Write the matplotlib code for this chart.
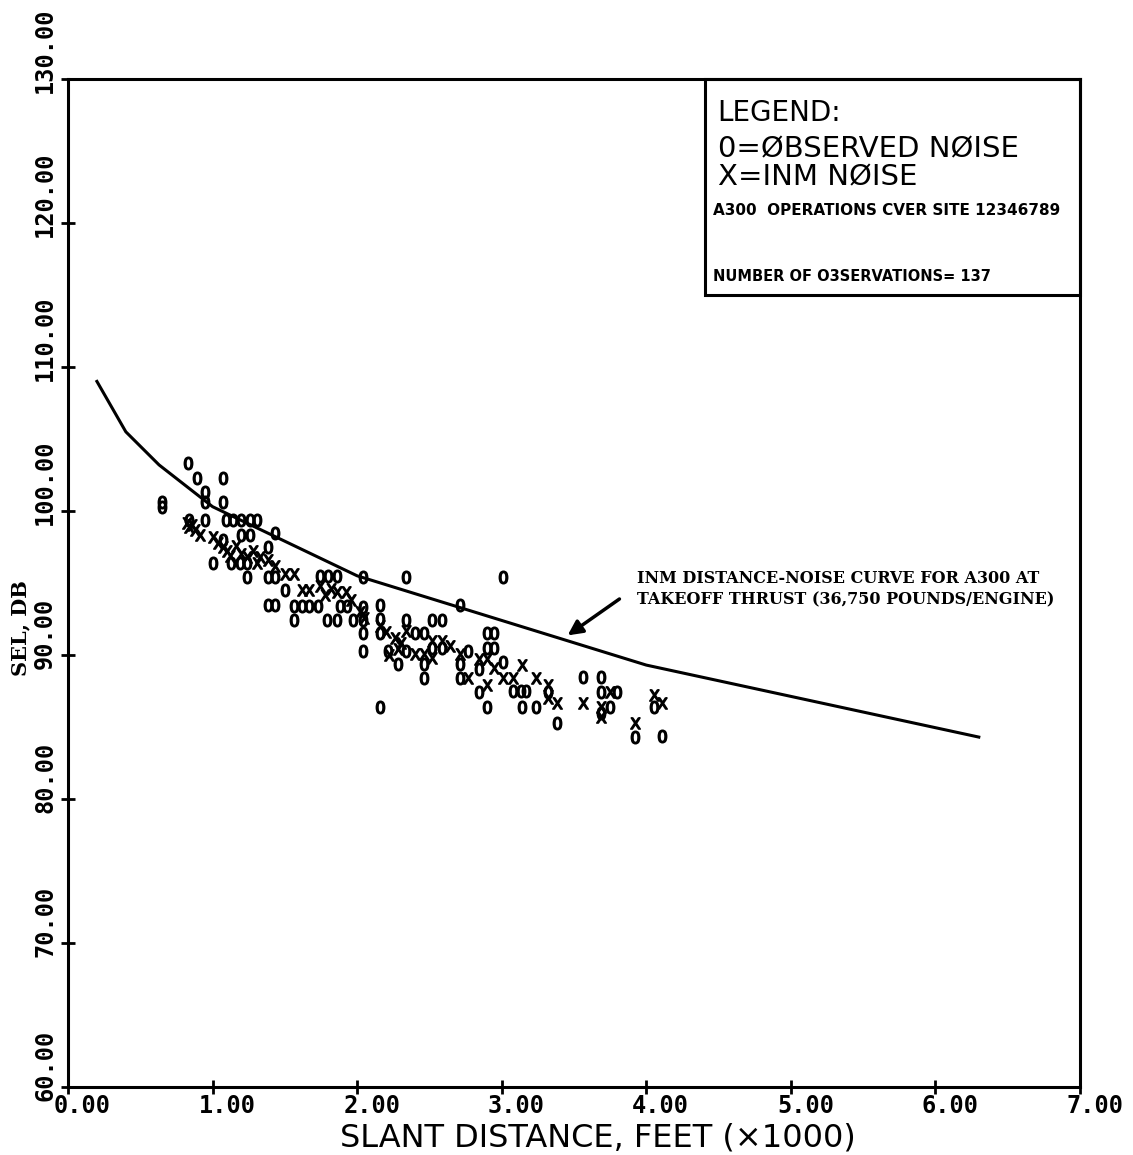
"""A300 SEL vs slant distance: observed (0) and INM (X) per-operation noise,
with the INM takeoff-thrust distance-noise curve."""
import matplotlib
matplotlib.use("Agg")
import matplotlib.pyplot as plt
from matplotlib.patches import Rectangle
from matplotlib.transforms import ScaledTranslation, blended_transform_factory

# INM distance-noise curve (slant distance x1000 ft, SEL dB)
CURVE_DIST = [0.2, 0.4, 0.63, 1.0, 2.0, 4.0, 6.3]
CURVE_SEL = [109.0, 105.5, 103.2, 100.3, 95.5, 89.3, 84.3]

OBS_DIST = [0.65, 0.65, 0.83, 0.89, 1.07, 0.95, 0.95, 1.07,
            0.84, 0.95, 1.09, 1.14, 1.20, 1.26, 1.31, 1.20, 1.26, 1.43, 1.07,
            1.00, 1.13, 1.19, 1.24, 1.38, 1.24, 1.38, 1.43, 1.50,
            1.38, 1.43, 1.56, 1.62, 1.67, 1.73, 1.56, 1.74, 1.80, 1.86,
            1.79, 1.86, 1.97, 1.88, 1.93, 2.04, 2.04, 2.04, 2.04, 2.04,
            2.34, 2.16, 2.16, 2.16, 2.16, 2.21, 2.28, 2.34, 2.34,
            2.71, 2.52, 2.59, 2.40, 2.46, 2.52, 2.59, 2.46, 2.46,
            2.77, 2.71, 2.71, 2.84, 2.84, 2.90, 2.95, 2.90, 2.95, 3.01, 2.90,
            3.08, 3.13, 3.17, 3.14, 3.24, 3.01, 3.32, 3.38,
            3.56, 3.69, 3.69, 3.80, 3.75, 3.92, 4.11, 4.05, 3.69]
OBS_SEL = [100.6, 100.3, 103.3, 102.3, 102.3, 101.3, 100.6, 100.6,
           99.4, 99.4, 99.4, 99.4, 99.4, 99.4, 99.4, 98.3, 98.3, 98.5, 98.0,
           96.4, 96.4, 96.4, 96.4, 97.5, 95.4, 95.4, 95.4, 94.5,
           93.5, 93.5, 93.4, 93.4, 93.4, 93.4, 92.4, 95.5, 95.5, 95.5,
           92.4, 92.4, 92.4, 93.4, 93.4, 95.4, 93.3, 92.4, 91.5, 90.3,
           95.4, 93.5, 92.5, 91.5, 86.4, 90.3, 89.4, 92.4, 90.3,
           93.5, 92.4, 92.4, 91.5, 91.5, 90.5, 90.5, 89.4, 88.4,
           90.3, 89.4, 88.4, 89.0, 87.4, 91.5, 91.5, 90.5, 90.5, 89.5, 86.4,
           87.5, 87.5, 87.5, 86.4, 86.4, 95.4, 87.4, 85.3,
           88.5, 88.5, 87.4, 87.4, 86.4, 84.3, 84.4, 86.4, 86.0]

# INM-predicted noise ("X" symbols)
INM_DIST = [0.82, 0.86, 0.88, 0.91, 0.84, 1.00, 1.04, 1.07, 1.10, 1.12,
            1.16, 1.20, 1.24, 1.28, 1.31, 1.33, 1.38, 1.43, 1.50, 1.56,
            1.62, 1.67, 1.74, 1.78, 1.82, 1.86, 1.92, 1.96, 2.02, 2.05,
            2.16, 2.20, 2.26, 2.30, 2.34, 2.40, 2.46, 2.52, 2.52, 2.59,
            2.64, 2.71, 2.77, 2.84, 2.90, 2.90, 2.95, 3.01, 3.08, 3.14,
            3.24, 3.32, 3.32, 3.38, 3.56, 3.75, 3.69, 3.69, 3.92, 4.05,
            4.11, 2.22, 2.28]
INM_SEL = [99.2, 99.0, 98.7, 98.3, 98.9, 98.2, 97.8, 97.5, 97.2, 96.9,
           97.6, 97.0, 96.8, 97.2, 96.4, 96.8, 96.6, 96.2, 95.6, 95.6,
           94.5, 94.5, 94.8, 94.2, 94.6, 94.4, 94.4, 93.8, 93.0, 92.6,
           92.0, 91.6, 91.2, 90.8, 91.7, 90.1, 90.1, 89.8, 91.0, 91.0,
           90.6, 90.1, 88.4, 89.7, 89.7, 87.9, 89.1, 88.4, 88.4, 89.3,
           88.4, 87.9, 87.0, 86.7, 86.7, 87.4, 86.4, 85.7, 85.3, 87.2,
           86.7, 90.0, 90.4]

X_TICKS = [0, 1, 2, 3, 4, 5, 6, 7]
Y_TICKS = [60, 70, 80, 90, 100, 110, 120, 130]

W, H = 1133, 1155
fig = plt.figure(figsize=(W / 100, H / 100), dpi=100)
ax = fig.add_axes([68 / W, (H - 1087) / H, 1012 / W, 1008 / H])
ax.set_xlim(0, 7)
ax.set_ylim(60, 130)
for sp in ax.spines.values():
    sp.set_linewidth(2.2)

ax.plot(CURVE_DIST, CURVE_SEL, color="k", lw=2.2)
ax.plot(OBS_DIST, OBS_SEL, ls="none", marker="$0$", ms=9, mew=1.1,
        color="k")
ax.plot(INM_DIST, INM_SEL, ls="none", marker=r"$\mathrm{X}$", ms=8, mew=1.1,
        color="k")

# ticks + hand-placed labels (plotter style offsets)
ax.set_xticks(X_TICKS)
ax.set_yticks(Y_TICKS)
ax.set_xticklabels([])
ax.set_yticklabels([])
ax.tick_params(direction="inout", length=10, width=2)
tick_font = dict(family="DejaVu Sans Mono", fontweight="bold", fontsize=17)
xt = blended_transform_factory(ax.transData, ax.transAxes)
for v in X_TICKS:
    ax.text(v, 0, f"{v:.2f}", transform=xt + ScaledTranslation(-14 / 100, -7 / 100, fig.dpi_scale_trans),
            ha="left", va="top", **tick_font)
yt = blended_transform_factory(ax.transAxes, ax.transData)
for v in Y_TICKS:
    ax.text(0, v, f"{v:.2f}", transform=yt + ScaledTranslation(-11 / 100, -14 / 100, fig.dpi_scale_trans),
            ha="right", va="bottom", rotation=90, **tick_font)

fig.text(598 / W, 1 - 1138 / H, "SLANT DISTANCE, FEET (×1000)",
         ha="center", va="center", fontsize=23, family="DejaVu Sans")
fig.text(20 / W, 1 - 628 / H, "SEL, DB", rotation=90, ha="center",
         va="center", fontsize=15, family="DejaVu Serif", fontweight="bold")

# legend box in the upper right corner
ax.add_patch(Rectangle((0.629, 0.786), 0.371, 0.214, transform=ax.transAxes,
                       fill=False, lw=2.2, clip_on=False))
ax.text(0.642, 0.966, "LEGEND:", transform=ax.transAxes, va="center",
        fontsize=20, family="DejaVu Sans")
ax.text(0.642, 0.930, "0=ØBSERVED NØISE", transform=ax.transAxes,
        va="center", fontsize=21, family="DejaVu Sans")
ax.text(0.642, 0.902, "X=INM NØISE", transform=ax.transAxes,
        va="center", fontsize=21, family="DejaVu Sans")
ax.text(0.637, 0.870, "A300  OPERATIONS CVER SITE 12346789",
        transform=ax.transAxes, va="center", fontsize=11,
        family="DejaVu Sans", fontweight="bold")
ax.text(0.637, 0.804, "NUMBER OF O3SERVATIONS= 137",
        transform=ax.transAxes, va="center", fontsize=10.5,
        family="DejaVu Sans", fontweight="bold")

# callout for the INM curve
ax.text(3.935, 95.9, "INM DISTANCE-NOISE CURVE FOR A300 AT\n"
        "TAKEOFF THRUST (36,750 POUNDS/ENGINE)", ha="left", va="top",
        fontsize=11.5, family="DejaVu Serif", fontweight="bold",
        linespacing=1.3)
ax.annotate("", xy=(3.44, 91.25), xytext=(3.83, 94.0),
            arrowprops=dict(arrowstyle="-|>", lw=2.5, color="k",
                            mutation_scale=22))

fig.savefig("out.png", dpi=100)
